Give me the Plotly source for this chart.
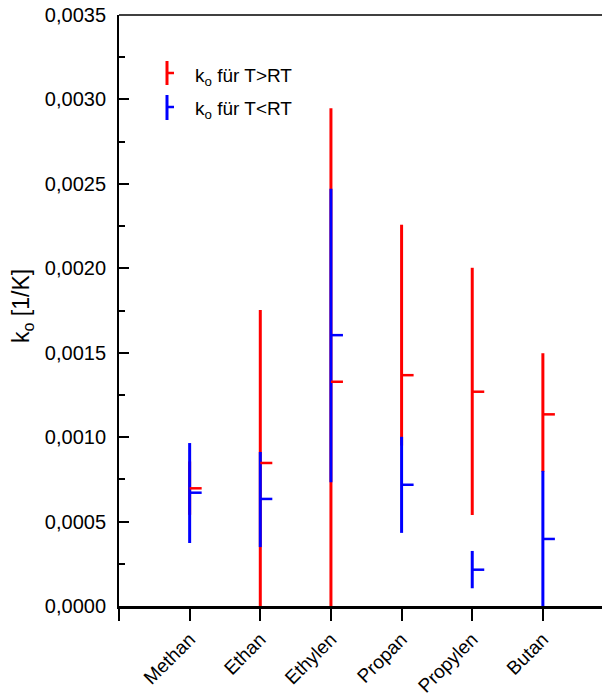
import plotly.graph_objects as go

categories = ["Methan", "Ethan", "Ethylen", "Propan", "Propylen", "Butan"]
x_pos = [1, 2, 3, 4, 5, 6]

# k_o für T>RT (red)
red_min = [0.000540, 0.000000, 0.000000, 0.000950, 0.000539, 0.000795]
red_max = [0.000856, 0.001753, 0.002948, 0.002258, 0.002003, 0.001497]
red_mean = [0.000697, 0.000847, 0.001328, 0.001367, 0.001269, 0.001135]

# k_o für T<RT (blue)
blue_min = [0.000373, 0.000349, 0.000733, 0.000433, 0.000105, 0.000000]
blue_max = [0.000965, 0.000912, 0.002471, 0.001002, 0.000326, 0.000800]
blue_mean = [0.000671, 0.000634, 0.001604, 0.000718, 0.000215, 0.000397]

y_tickvals = [0.0, 0.0005, 0.0010, 0.0015, 0.0020, 0.0025, 0.0030, 0.0035]
y_ticktext = ["0,0000", "0,0005", "0,0010", "0,0015", "0,0020", "0,0025", "0,0030", "0,0035"]

RED = "#ff0000"
BLUE = "#0000ff"
FONT = "Liberation Sans, Arial, sans-serif"
TICK_LEN = 0.17


def range_xy(xs, lo, hi):
    xx, yy = [], []
    for x, a, b in zip(xs, lo, hi):
        xx += [x, x, None]
        yy += [a, b, None]
    return xx, yy


def mean_xy(xs, m):
    xx, yy = [], []
    for x, v in zip(xs, m):
        xx += [x, x + TICK_LEN, None]
        yy += [v, v, None]
    return xx, yy


fig = go.Figure()
rx, ry = range_xy(x_pos, red_min, red_max)
bx, by = range_xy(x_pos, blue_min, blue_max)
rmx, rmy = mean_xy(x_pos, red_mean)
bmx, bmy = mean_xy(x_pos, blue_mean)

fig.add_trace(go.Scatter(x=rx, y=ry, mode="lines", line=dict(color=RED, width=3), showlegend=False, hoverinfo="skip"))
fig.add_trace(go.Scatter(x=bx, y=by, mode="lines", line=dict(color=BLUE, width=3), showlegend=False, hoverinfo="skip"))
fig.add_trace(go.Scatter(x=rmx, y=rmy, mode="lines", line=dict(color=RED, width=2.5), showlegend=False, hoverinfo="skip"))
fig.add_trace(go.Scatter(x=bmx, y=bmy, mode="lines", line=dict(color=BLUE, width=2.5), showlegend=False, hoverinfo="skip"))

# the page body has an 8px margin, so the figure is offset by 8px
OFF = 8
W, H = 610 - OFF, 697 - OFF
PLOT_L, PLOT_T, PLOT_B = 119, 15, 606          # screen pixels
ML, MT = PLOT_L - OFF, PLOT_T - OFF
MB = 697 - PLOT_B
MR = 0
PW, PH = W - ML - MR, H - MT - MB


def px(sx):
    return (sx - PLOT_L) / PW


def py(sy):
    return 1 - (sy - PLOT_T) / PH


shapes = []
for color, y0, y1, ym in [(RED, 61, 85, 73), (BLUE, 95, 120, 107)]:
    shapes.append(dict(type="line", xref="paper", yref="paper", x0=px(167), x1=px(167), y0=py(y0), y1=py(y1),
                       line=dict(color=color, width=3)))
    shapes.append(dict(type="line", xref="paper", yref="paper", x0=px(167), x1=px(174), y0=py(ym), y1=py(ym),
                       line=dict(color=color, width=2.5)))
# top frame line
shapes.append(dict(type="line", xref="paper", yref="paper", x0=0, x1=1, y0=1, y1=1,
                   line=dict(color="black", width=1.5)))

annotations = [
    dict(xref="paper", yref="paper", x=px(193), y=py(77), xanchor="left", yanchor="middle",
         text="k<sub>o</sub> für T&gt;RT", showarrow=False, font=dict(family=FONT, size=19, color="black")),
    dict(xref="paper", yref="paper", x=px(193), y=py(110), xanchor="left", yanchor="middle",
         text="k<sub>o</sub> für T&lt;RT", showarrow=False, font=dict(family=FONT, size=19, color="black")),
    dict(xref="paper", yref="paper", x=px(22), y=py(306), xanchor="center", yanchor="middle", textangle=-90,
         text="k<sub>o</sub> [1/K]", showarrow=False, font=dict(family=FONT, size=23, color="black")),
]

fig.update_layout(
    width=W, height=H,
    margin=dict(l=ML, r=MR, t=MT, b=MB, pad=0, autoexpand=False),
    paper_bgcolor="white", plot_bgcolor="white",
    font=dict(family=FONT, size=19, color="black"),
    shapes=shapes,
    annotations=annotations,
    showlegend=False,
)
fig.update_xaxes(
    range=[0, 6.95], automargin=False,
    tickvals=[0] + x_pos, ticktext=[""] + categories,
    tickangle=-45,
    ticks="outside", ticklen=12, tickwidth=2, tickcolor="black",
    showline=True, linecolor="black", linewidth=2.5,
    showgrid=False, zeroline=False,
    ticklabeloverflow="allow",
    tickfont=dict(family=FONT, size=19),
)
fig.update_yaxes(
    range=[0, 0.0035], automargin=False,
    tickvals=y_tickvals, ticktext=y_ticktext,
    ticks="inside", ticklen=10, tickwidth=2, tickcolor="black",
    minor=dict(ticks="inside", ticklen=6, tickwidth=2, tickcolor="black", dtick=0.00025, showgrid=False),
    showline=True, linecolor="black", linewidth=2,
    showgrid=False, zeroline=False,
    ticklabelstandoff=7,
    ticklabeloverflow="allow",
    tickfont=dict(family=FONT, size=20),
)

fig.write_html("out.html")
